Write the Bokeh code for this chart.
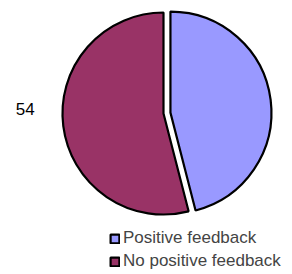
import math
from bokeh.plotting import figure
from bokeh.models import ColumnDataSource, Range1d, Legend, LegendItem
from bokeh.core.properties import value
from bokeh.embed import file_html
from bokeh.resources import INLINE

categories = ["Positive feedback", "No positive feedback"]
values = [46, 54]
colors = ["#9999FF", "#993366"]
shown_labels = ["", "54"]

W, H = 284, 272
p = figure(width=W, height=H, output_backend="svg", toolbar_location=None,
           x_range=Range1d(0, W), y_range=Range1d(274 - H, 274),
           x_axis_location=None, y_axis_location=None, min_border=0)
p.grid.visible = False
p.outline_line_color = None
p.background_fill_color = "white"

cx, cy, r = 163.0, 161.0, 101.0
explode = [7.0, 0.0]
total = sum(values)
starts, ends, xs, ys = [], [], [], []
a = math.pi / 2
for v, e in zip(values, explode):
    sweep = 2 * math.pi * v / total
    end = a
    start = a - sweep
    mid = (start + end) / 2
    starts.append(start)
    ends.append(end)
    xs.append(cx + e * math.cos(mid))
    ys.append(cy + e * math.sin(mid))
    a = start

src = ColumnDataSource(dict(x=xs, y=ys, start=starts, end=ends, color=colors, cat=categories))
wr = p.wedge(x="x", y="y", radius=r, start_angle="start", end_angle="end",
             fill_color="color", line_color="black", line_width=2.2, source=src)

for i, lab in enumerate(shown_labels):
    if lab:
        mid = (starts[i] + ends[i]) / 2
        lx = cx + 1.38 * r * math.cos(mid)
        ly = cy + 0.05 * r * math.sin(mid) + 5
        p.text(x=[lx], y=[ly], text=[lab], text_align="center", text_baseline="middle",
               text_font=value("Liberation Sans"), text_font_size="17px", text_color="black")

items = [LegendItem(label=c, renderers=[wr], index=i) for i, c in enumerate(categories)]
legend = Legend(items=items, location=(109, 1), orientation="vertical",
                glyph_width=11, glyph_height=11, label_height=16, spacing=3,
                label_standoff=3, padding=0, margin=0,
                label_text_font="Liberation Sans", label_text_font_size="17px",
                border_line_color=None, background_fill_alpha=0)
p.add_layout(legend)

open("out.html", "w").write(file_html(p, INLINE))
